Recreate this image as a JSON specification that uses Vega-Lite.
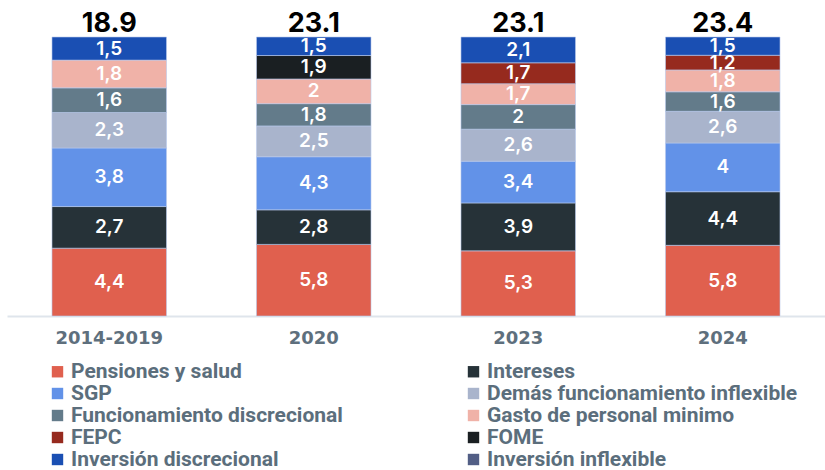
{
  "$schema": "https://vega.github.io/schema/vega-lite/v6.json",
  "width": 818,
  "height": 279,
  "autosize": {"type": "none"},
  "padding": {"left": 7, "top": 37, "right": 0, "bottom": 154},
  "background": "white",
  "config": {"view": {"stroke": null}, "font": "Inter"},
  "datasets": {
    "segmentos": [
      {"periodo": "2014-2019", "rubro": "Pensiones y salud", "orden": 1, "valor": 4.4},
      {"periodo": "2014-2019", "rubro": "Intereses", "orden": 2, "valor": 2.7},
      {"periodo": "2014-2019", "rubro": "SGP", "orden": 3, "valor": 3.8},
      {"periodo": "2014-2019", "rubro": "Demás funcionamiento inflexible", "orden": 4, "valor": 2.3},
      {"periodo": "2014-2019", "rubro": "Funcionamiento discrecional", "orden": 5, "valor": 1.6},
      {"periodo": "2014-2019", "rubro": "Gasto de personal minimo", "orden": 6, "valor": 1.8},
      {"periodo": "2014-2019", "rubro": "Inversión discrecional", "orden": 9, "valor": 1.5},
      {"periodo": "2020", "rubro": "Pensiones y salud", "orden": 1, "valor": 5.8},
      {"periodo": "2020", "rubro": "Intereses", "orden": 2, "valor": 2.8},
      {"periodo": "2020", "rubro": "SGP", "orden": 3, "valor": 4.3},
      {"periodo": "2020", "rubro": "Demás funcionamiento inflexible", "orden": 4, "valor": 2.5},
      {"periodo": "2020", "rubro": "Funcionamiento discrecional", "orden": 5, "valor": 1.8},
      {"periodo": "2020", "rubro": "Gasto de personal minimo", "orden": 6, "valor": 2},
      {"periodo": "2020", "rubro": "FOME", "orden": 8, "valor": 1.9},
      {"periodo": "2020", "rubro": "Inversión discrecional", "orden": 9, "valor": 1.5},
      {"periodo": "2023", "rubro": "Pensiones y salud", "orden": 1, "valor": 5.3},
      {"periodo": "2023", "rubro": "Intereses", "orden": 2, "valor": 3.9},
      {"periodo": "2023", "rubro": "SGP", "orden": 3, "valor": 3.4},
      {"periodo": "2023", "rubro": "Demás funcionamiento inflexible", "orden": 4, "valor": 2.6},
      {"periodo": "2023", "rubro": "Funcionamiento discrecional", "orden": 5, "valor": 2},
      {"periodo": "2023", "rubro": "Gasto de personal minimo", "orden": 6, "valor": 1.7},
      {"periodo": "2023", "rubro": "FEPC", "orden": 7, "valor": 1.7},
      {"periodo": "2023", "rubro": "Inversión discrecional", "orden": 9, "valor": 2.1},
      {"periodo": "2024", "rubro": "Pensiones y salud", "orden": 1, "valor": 5.8},
      {"periodo": "2024", "rubro": "Intereses", "orden": 2, "valor": 4.4},
      {"periodo": "2024", "rubro": "SGP", "orden": 3, "valor": 4},
      {"periodo": "2024", "rubro": "Demás funcionamiento inflexible", "orden": 4, "valor": 2.6},
      {"periodo": "2024", "rubro": "Funcionamiento discrecional", "orden": 5, "valor": 1.6},
      {"periodo": "2024", "rubro": "Gasto de personal minimo", "orden": 6, "valor": 1.8},
      {"periodo": "2024", "rubro": "FEPC", "orden": 7, "valor": 1.2},
      {"periodo": "2024", "rubro": "Inversión discrecional", "orden": 9, "valor": 1.5}
    ],
    "totales": [
      {"periodo": "2014-2019", "total": 18.9},
      {"periodo": "2020", "total": 23.1},
      {"periodo": "2023", "total": 23.1},
      {"periodo": "2024", "total": 23.4}
    ]
  },
  "encoding": {
    "x": {
      "field": "periodo",
      "type": "nominal",
      "sort": ["2014-2019", "2020", "2023", "2024"],
      "scale": {"paddingInner": 0.44, "paddingOuter": 0.22},
      "axis": {
        "title": null,
        "labelAngle": 0,
        "labelFont": "DejaVu Sans",
        "labelFontSize": 18,
        "labelFontWeight": "bold",
        "labelColor": "#5e6f7d",
        "labelPadding": 13,
        "ticks": false,
        "domainColor": "#dfe5ec",
        "domainWidth": 2
      }
    }
  },
  "layer": [
    {
      "data": {"name": "segmentos"},
      "transform": [
        {"stack": "valor", "groupby": ["periodo"], "sort": [{"field": "orden", "order": "ascending"}], "offset": "normalize", "as": ["v0", "v1"]}
      ],
      "mark": {"type": "bar", "stroke": "#b9c9ec", "strokeWidth": 0.6},
      "encoding": {
        "y": {"field": "v0", "type": "quantitative", "scale": {"domain": [0, 1]}, "axis": null},
        "y2": {"field": "v1"},
        "color": {
          "field": "rubro",
          "type": "nominal",
          "scale": {
            "domain": ["Pensiones y salud", "Intereses", "SGP", "Demás funcionamiento inflexible", "Funcionamiento discrecional", "Gasto de personal minimo", "FEPC", "FOME", "Inversión discrecional", "Inversión inflexible"],
            "range": ["#e0604e", "#263238", "#6292e8", "#a9b4cc", "#637b8a", "#f0b2a8", "#962a1e", "#1a1f22", "#1a4fb3", "#525e85"]
          },
          "legend": {
            "title": null,
            "orient": "none",
            "legendX": 40,
            "legendY": 324,
            "columns": 2,
            "direction": "horizontal",
            "columnPadding": 120,
            "rowPadding": 0,
            "symbolType": "square",
            "symbolSize": 130,
            "symbolStrokeWidth": 0,
            "labelFont": "Roboto",
            "labelFontSize": 21,
            "labelFontWeight": "bold",
            "labelColor": "#5b6e7c",
            "labelOffset": 3,
            "labelLimit": 400
          }
        }
      }
    },
    {
      "data": {"name": "segmentos"},
      "transform": [
        {"stack": "valor", "groupby": ["periodo"], "sort": [{"field": "orden", "order": "ascending"}], "offset": "normalize", "as": ["v0", "v1"]},
        {"calculate": "(datum.v0 + datum.v1) / 2", "as": "vm"},
        {"calculate": "replace(format(datum.valor, '.1~f'), '.', ',')", "as": "etiqueta"}
      ],
      "mark": {"type": "text", "color": "white", "fontSize": 19, "fontWeight": 600, "font": "Inter", "baseline": "middle"},
      "encoding": {
        "y": {"field": "vm", "type": "quantitative"},
        "text": {"field": "etiqueta"}
      }
    },
    {
      "data": {"name": "totales"},
      "mark": {"type": "text", "color": "black", "fontSize": 27, "fontWeight": "bold", "font": "Inter", "baseline": "alphabetic", "dy": -5},
      "encoding": {
        "y": {"datum": 1, "type": "quantitative"},
        "text": {"field": "total", "type": "quantitative", "format": ".1f"}
      }
    }
  ]
}
